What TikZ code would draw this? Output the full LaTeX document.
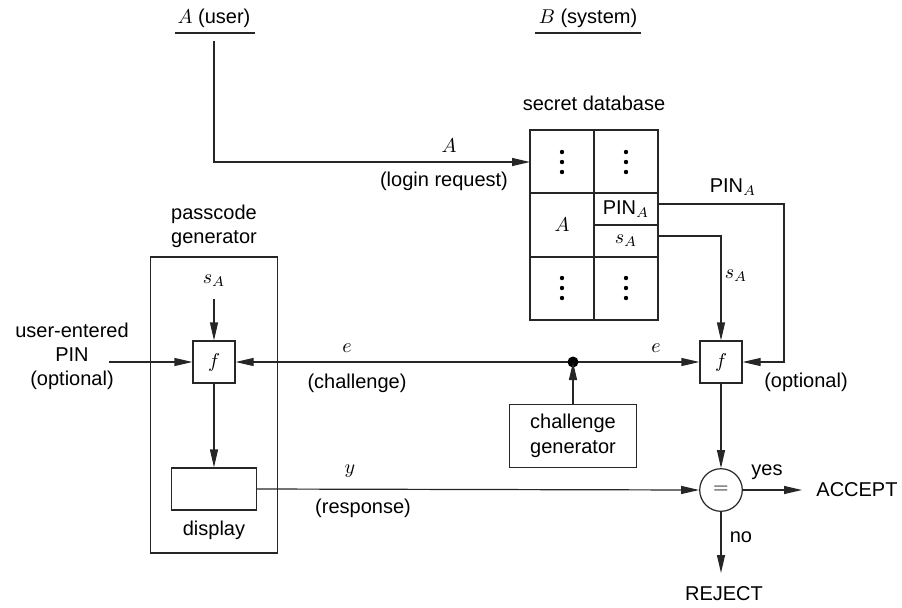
\documentclass[tikz,border=0pt]{standalone}
\usepackage{fontspec}
\setmainfont{Liberation Sans}
\usetikzlibrary{arrows.meta}
\tikzset{
  ln/.style={line width=0.6pt, draw=black!85},
  arr/.style={ln, -{Triangle[length=9pt,width=4pt]}},
  fbox/.style={draw, ln, minimum width=21pt, minimum height=21pt, inner sep=0pt},
  lbl/.style={inner sep=0pt, font=\fontsize{10}{12}\selectfont},
  plainbox/.style={draw, ln, inner sep=0pt},
  vdotcell/.style={inner sep=0pt, minimum width=4pt, minimum height=12pt}
}
\begin{document}
\begin{tikzpicture}[x=0.5pt,y=-0.5pt]
\useasboundingbox (0,0) rectangle (902,607);
% headers
\node[lbl] (hA) at (214,18) {$A$ (user)};
\node[lbl] (hB) at (588,18) {$B$ (system)};
\draw[ln] (175,33) -- (255,33);
\draw[ln] (535,33) -- (641,33);
\coordinate (userline) at (214,41);
% database
\node[lbl] (dbl) at (594,103) {secret database};
\node[plainbox, minimum width=64pt, minimum height=95pt] (db) at (594,225) {};
\draw[ln] (594,130) -- (594,320);
\draw[ln] (530,193) -- (658,193);
\draw[ln] (530,257) -- (658,257);
\draw[ln] (594,225) -- (658,225);
\foreach \n/\x/\y in {d1/562/162, d2/626/162, d3/562/288, d4/626/288}{
  \node[vdotcell] (\n) at (\x,\y) {};
  \fill (\n.center) circle (1.1pt) ++(0,-10) circle (1.1pt) ++(0,20) circle (1.1pt);
}
\node[lbl] (cA) at (562,225) {$A$};
\node[lbl] (cPIN) at (626,209) {PIN$_A$};
\node[lbl] (cs) at (626,241) {$s_A$};
\coordinate (dbin) at (530,162);
\coordinate (pinout) at (658,204);
\coordinate (sout) at (658,236);
% login arrow
\draw[arr] (userline) |- (dbin);
\node[lbl] (lA) at (449,146) {$A$};
\node[lbl] (lreq) at (444,181) {(login request)};
% right f
\node[fbox] (fR) at (721,362) {$f$};
\draw[arr] (sout) -| (fR.north);
\node[lbl] (lsA) at (736,276) {$s_A$};
\coordinate (pinc) at (784,204);
\draw[arr] (pinout) -- (pinc) |- (fR.east);
\node[lbl] (lPIN) at (733,187) {PIN$_A$};
\node[lbl] (lopt) at (806,382) {(optional)};
% passcode generator
\node[lbl, align=center] (pgl) at (214,226) {passcode\\generator};
\node[plainbox, minimum width=63.5pt, minimum height=148pt] (pg) at (214,405) {};
\node[lbl] (pgs) at (214,281) {$s_A$};
\node[fbox] (fL) at (214,362) {$f$};
\coordinate (pgsout) at (214,299);
\draw[arr] (pgsout) -- (fL.north);
\node[lbl, align=center] (uep) at (72,356) {user-entered\\PIN\\(optional)};
\coordinate (uepout) at (109,362);
\draw[arr] (uepout) -- (fL.west);
\node[plainbox, minimum width=42.3pt, minimum height=21pt] (disp) at (214,489) {};
\draw[arr] (fL.south) -- (disp.north);
\node[lbl] (displ) at (214,530) {display};
% challenge
\draw[arr, {Triangle[length=9pt,width=4pt]}-{Triangle[length=9pt,width=4pt]}] (fL.east) -- (fR.west);
\node[circle, fill, inner sep=0pt, minimum size=5.5pt] (dot) at (573,362) {};
\node[lbl] (le1) at (347,348) {$e$};
\node[lbl] (le2) at (656,348) {$e$};
\node[lbl] (lch) at (357,383) {(challenge)};
\node[plainbox, minimum width=63.5pt, minimum height=31.6pt, align=center, font=\fontsize{10}{12.5}\selectfont] (cg) at (573,436) {challenge\\generator};
\draw[arr] (cg.north) -- (dot.center);
% comparison
\node[draw, ln, circle, minimum size=21.3pt, inner sep=0pt] (eq) at (721,490) {$=$};
\draw[arr] (fR.south) -- (eq.north);
\draw[arr] (disp.east) -- (eq.west);
\node[lbl] (ly) at (350,471) {$y$};
\node[lbl] (lresp) at (363,508) {(response)};
\coordinate (accin) at (802,490);
\draw[arr] (eq.east) -- (accin);
\node[lbl] (yes) at (767,472) {yes};
\node[lbl] (acc) at (857,490) {ACCEPT};
\coordinate (rejin) at (721,573);
\draw[arr] (eq.south) -- (rejin);
\node[lbl] (no) at (741,537) {no};
\node[lbl] (rej) at (724,594) {REJECT};
\end{tikzpicture}
\end{document}
